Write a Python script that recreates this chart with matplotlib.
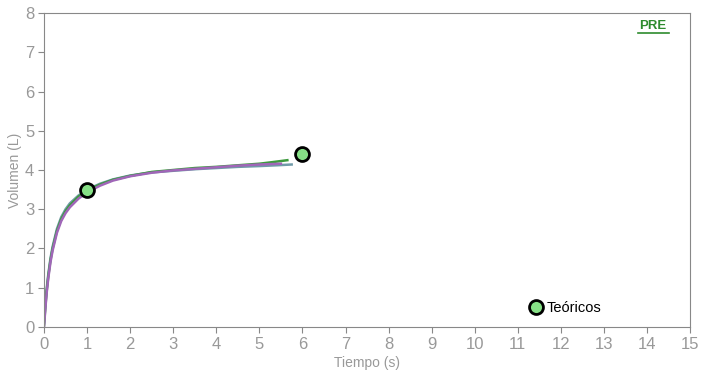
import matplotlib.pyplot as plt
from matplotlib.lines import Line2D

plt.rcParams['font.family'] = ['Liberation Sans', 'DejaVu Sans']

# curvas medidas (tiempo s, volumen L)
t_verde = [0, 0.03, 0.06, 0.1, 0.15, 0.2, 0.3, 0.4, 0.5, 0.6, 0.8, 1.0, 1.3, 1.6, 2.0, 2.5, 3.0, 3.5, 4.0, 4.5, 5.0, 5.3, 5.65]
v_verde = [0.05, 0.5, 0.9, 1.3, 1.7, 2.0, 2.45, 2.75, 2.95, 3.1, 3.32, 3.48, 3.63, 3.75, 3.85, 3.95, 4.0, 4.05, 4.08, 4.12, 4.16, 4.2, 4.25]
t_morado = [0, 0.03, 0.06, 0.1, 0.15, 0.2, 0.3, 0.4, 0.5, 0.6, 0.8, 1.0, 1.3, 1.6, 2.0, 2.5, 3.0, 3.5, 4.0, 4.5, 5.0, 5.5]
v_morado = [0.0, 0.45, 0.85, 1.25, 1.65, 1.95, 2.4, 2.7, 2.9, 3.05, 3.27, 3.43, 3.6, 3.73, 3.84, 3.93, 3.99, 4.03, 4.07, 4.11, 4.14, 4.16]
t_gris = [0, 0.03, 0.06, 0.1, 0.15, 0.2, 0.3, 0.4, 0.5, 0.6, 0.8, 1.0, 1.3, 1.6, 2.0, 2.5, 3.0, 3.5, 4.0, 4.5, 5.0, 5.4, 5.75]
v_gris = [0.1, 0.55, 0.95, 1.35, 1.75, 2.05, 2.5, 2.8, 3.0, 3.15, 3.35, 3.5, 3.65, 3.76, 3.86, 3.94, 3.98, 4.02, 4.05, 4.08, 4.1, 4.12, 4.14]

# puntos teóricos
t_teo = [1, 6]
v_teo = [3.5, 4.4]

fig = plt.figure(figsize=(7.03, 3.74), dpi=100)
ax = fig.add_axes([0.0626, 0.1257, 0.919, 0.8395])

ax.plot(t_gris, v_gris, color='#6f9aa8', linewidth=1.8)
ax.plot(t_verde, v_verde, color='#3c9a3c', linewidth=1.8)
ax.plot(t_morado, v_morado, color='#a066b8', linewidth=1.8)
ax.plot(t_teo, v_teo, linestyle='none', marker='o', markersize=10,
        markerfacecolor='#86e086', markeredgecolor='black', markeredgewidth=2,
        label='Teóricos', zorder=5)

ax.set_xlim(0, 15)
ax.set_ylim(0, 8)
ax.set_xticks(range(0, 16))
ax.set_yticks(range(0, 9))
for s in ax.spines.values():
    s.set_color('#888888')
ax.tick_params(colors='#888888', labelcolor='#999999', labelsize=12, length=4, pad=3)
ax.set_xlabel('Tiempo (s)', color='#999999', fontsize=10, labelpad=3)
ax.set_ylabel('Volumen (L)', color='#999999', fontsize=10, labelpad=2)

ax.legend(loc='center left', bbox_to_anchor=(0.735, 0.06), frameon=False,
          handletextpad=0.0, fontsize=10.5, borderaxespad=0, handlelength=1.5)

fig.text(0.929, 0.93, 'PRE', color='#2e8b2e', fontsize=9.5, fontweight='bold',
         ha='center', va='center')
fig.add_artist(Line2D([0.907, 0.951], [0.912, 0.912], color='#2e8b2e', linewidth=1.2))

fig.savefig('out.png', dpi=100)
